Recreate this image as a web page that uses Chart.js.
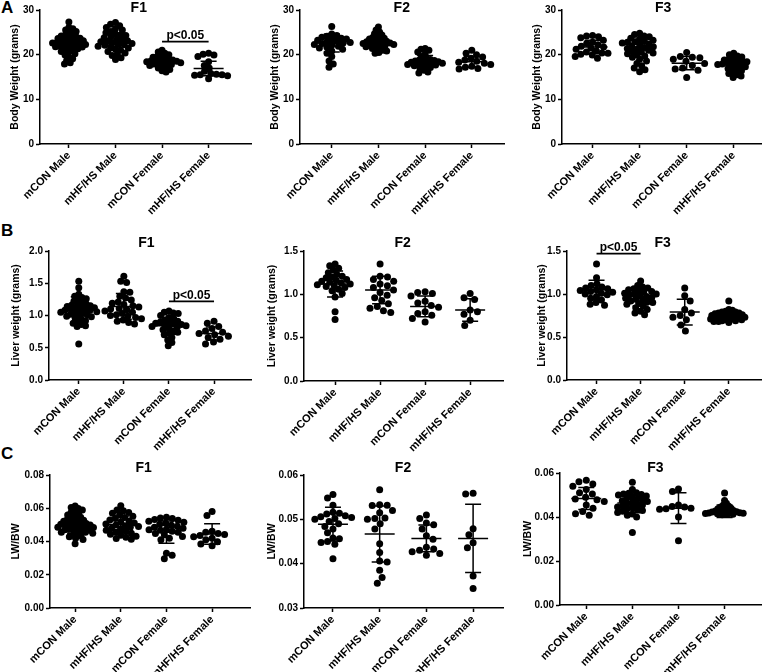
<!DOCTYPE html>
<html>
<head>
<meta charset="utf-8">
<script src="https://cdn.jsdelivr.net/npm/chart.js@4.4.0/dist/chart.umd.min.js"></script>
<style>
  html, body { margin: 0; padding: 0; background: #fff; }
  #figure { position: relative; width: 765px; height: 672px; overflow: hidden; background: #fff; }
  #figure canvas { position: absolute; }
  .panel-letter { position: absolute; font: bold 17px "Liberation Sans", Arial, sans-serif; color: #000; }
</style>
</head>
<body>
<div id="figure">
  <div class="panel-letter" style="left:1px;top:-2px">A</div>
  <div class="panel-letter" style="left:1px;top:221px">B</div>
  <div class="panel-letter" style="left:1px;top:444px">C</div>
</div>
<script>
const groups = ["mCON Male", "mHF/HS Male", "mCON Female", "mHF/HS Female"];

// Body weight (grams)
const bwF1 = [
  [27.3, 26.1, 25.8, 25.5, 25.2, 24.9, 24.6, 24.4, 24.2, 24.0, 23.8, 23.6, 23.5, 23.3, 23.1, 23.0, 22.9, 22.8, 22.6, 22.5, 22.4, 22.3, 22.1, 22.0, 21.9, 21.7, 21.5, 21.3, 21.1, 20.9, 20.7, 20.5, 20.2, 19.9, 19.5, 19.1, 18.7, 18.2, 17.9, 23.7, 22.7, 21.8],
  [27.2, 26.8, 26.5, 26.1, 25.8, 25.5, 25.2, 24.9, 24.6, 24.3, 24.0, 23.8, 23.5, 23.3, 23.1, 22.9, 22.7, 22.5, 22.3, 22.1, 21.9, 21.7, 21.5, 21.2, 21.0, 20.7, 20.4, 20.1, 19.8, 19.3, 18.9, 23.0, 22.2, 24.4],
  [21.0, 20.6, 20.3, 20.0, 19.8, 19.6, 19.4, 19.2, 19.0, 18.9, 18.8, 18.7, 18.6, 18.5, 18.4, 18.3, 18.2, 18.1, 18.0, 17.9, 17.8, 17.6, 17.4, 17.2, 17.0, 16.7, 16.4, 16.1],
  [20.3, 20.1, 19.9, 19.6, 18.4, 17.6, 17.0, 16.3, 15.8, 15.6, 15.5, 15.5, 15.4, 15.3, 14.6]
];
const bwF1Mean = [22.7, 22.9, 18.6, 16.9];
const bwF1Sd = [1.8, 1.9, 1.1, 1.6];
const bwF1Sig = [2, 3, 22.9];

const bwF2 = [
  [26.3, 24.6, 24.3, 24.1, 23.9, 23.7, 23.5, 23.4, 23.2, 23.0, 22.9, 22.7, 22.6, 22.5, 22.3, 22.1, 21.9, 21.7, 21.5, 21.2, 20.8, 20.3, 19.6, 18.6, 17.9, 17.2],
  [26.2, 25.5, 25.1, 24.7, 24.4, 24.1, 23.9, 23.7, 23.5, 23.3, 23.1, 23.0, 22.9, 22.8, 22.7, 22.6, 22.5, 22.4, 22.3, 22.2, 22.1, 22.0, 21.8, 21.6, 21.4, 21.2, 21.0, 20.8, 20.5, 20.3],
  [21.4, 21.2, 21.0, 20.6, 20.1, 19.6, 19.2, 18.9, 18.7, 18.6, 18.5, 18.4, 18.3, 18.2, 18.1, 18.0, 17.9, 17.8, 17.7, 17.6, 17.5, 17.3, 17.1, 16.8, 16.5, 16.1, 15.9, 18.8],
  [21.0, 20.3, 20.0, 19.5, 19.2, 18.8, 18.5, 18.3, 18.1, 17.8, 17.4, 17.2, 16.9, 16.8]
];
const bwF2Mean = [22.6, 22.7, 18.5, 18.4];
const bwF2Sd = [2.0, 1.3, 1.3, 1.2];

const bwF3 = [
  [24.3, 24.2, 24.0, 23.8, 23.2, 22.8, 22.5, 22.2, 21.9, 21.7, 21.5, 21.2, 20.9, 20.6, 20.4, 20.3, 20.1, 19.9, 19.6, 19.2],
  [24.8, 24.5, 24.2, 24.0, 23.7, 23.5, 23.2, 23.0, 22.8, 22.6, 22.4, 22.2, 22.0, 21.8, 21.6, 21.4, 21.2, 21.0, 20.8, 20.6, 20.4, 20.2, 20.0, 19.7, 19.4, 19.0, 18.6, 18.0, 17.5, 17.0, 16.6, 16.2, 22.9],
  [20.5, 19.6, 19.4, 19.3, 19.0, 18.5, 18.0, 17.6, 17.0, 16.8, 16.5, 14.9],
  [20.3, 20.0, 19.7, 19.5, 19.2, 19.0, 18.8, 18.6, 18.4, 18.2, 18.0, 17.9, 17.8, 17.6, 17.5, 17.3, 17.1, 16.9, 16.6, 16.4, 16.1, 15.8, 15.5, 15.2, 14.9, 18.5]
];
const bwF3Mean = [21.7, 21.4, 18.1, 17.8];
const bwF3Sd = [1.5, 2.0, 1.5, 1.4];

// Liver weight (grams)
const lwF1 = [
  [1.53, 1.43, 1.33, 1.30, 1.28, 1.26, 1.24, 1.22, 1.20, 1.18, 1.17, 1.15, 1.14, 1.13, 1.12, 1.11, 1.10, 1.09, 1.08, 1.07, 1.06, 1.05, 1.04, 1.03, 1.02, 1.01, 1.00, 0.98, 0.96, 0.94, 0.92, 0.90, 0.88, 0.86, 0.84, 0.83, 0.56, 1.16, 1.08, 0.99],
  [1.61, 1.53, 1.51, 1.37, 1.36, 1.30, 1.27, 1.24, 1.21, 1.19, 1.17, 1.15, 1.13, 1.11, 1.09, 1.07, 1.05, 1.03, 1.01, 1.00, 0.99, 0.97, 0.95, 0.93, 0.91, 0.89, 0.87, 1.10],
  [1.07, 1.05, 1.04, 1.03, 1.00, 0.97, 0.95, 0.93, 0.91, 0.90, 0.89, 0.88, 0.87, 0.86, 0.85, 0.84, 0.83, 0.82, 0.80, 0.78, 0.76, 0.74, 0.72, 0.70, 0.66, 0.62, 0.58, 0.53],
  [0.91, 0.88, 0.83, 0.80, 0.76, 0.74, 0.72, 0.70, 0.68, 0.66, 0.63, 0.59, 0.56]
];
const lwF1Mean = [1.09, 1.14, 0.84, 0.72];
const lwF1Sd = [0.20, 0.20, 0.13, 0.10];
const lwF1Sig = [2, 3, 1.22];

const lwF2 = [
  [1.35, 1.33, 1.30, 1.28, 1.25, 1.23, 1.21, 1.20, 1.19, 1.17, 1.16, 1.15, 1.14, 1.13, 1.12, 1.11, 1.10, 1.09, 1.08, 1.06, 1.04, 1.01, 0.97, 0.80, 0.71],
  [1.35, 1.21, 1.20, 1.17, 1.15, 1.12, 1.10, 1.08, 1.05, 1.02, 0.99, 0.96, 0.93, 0.89, 0.86, 0.84, 0.81, 0.79],
  [1.03, 1.02, 1.01, 0.98, 0.92, 0.90, 0.87, 0.85, 0.80, 0.78, 0.76, 0.72, 0.68],
  [1.01, 0.96, 0.94, 0.82, 0.80, 0.77, 0.70, 0.64]
];
const lwF2Mean = [1.12, 1.05, 0.86, 0.82];
const lwF2Sd = [0.15, 0.16, 0.12, 0.13];

const lwF3 = [
  [1.35, 1.19, 1.12, 1.10, 1.08, 1.07, 1.06, 1.05, 1.04, 1.03, 1.02, 1.01, 1.00, 0.99, 0.97, 0.95, 0.93, 0.90, 0.88, 0.87],
  [1.15, 1.10, 1.08, 1.07, 1.06, 1.05, 1.04, 1.03, 1.02, 1.01, 1.00, 0.99, 0.98, 0.97, 0.96, 0.95, 0.94, 0.93, 0.92, 0.91, 0.90, 0.89, 0.88, 0.86, 0.84, 0.82, 0.80, 0.78, 0.76, 1.00],
  [1.07, 0.98, 0.92, 0.82, 0.78, 0.75, 0.73, 0.70, 0.64, 0.57],
  [0.92, 0.82, 0.81, 0.80, 0.79, 0.79, 0.78, 0.78, 0.77, 0.77, 0.76, 0.76, 0.75, 0.75, 0.74, 0.74, 0.73, 0.73, 0.72, 0.72, 0.71, 0.71, 0.70, 0.70, 0.69, 0.69, 0.68, 0.68, 0.67, 0.73]
];
const lwF3Mean = [1.05, 0.97, 0.79, 0.74];
const lwF3Sd = [0.11, 0.11, 0.15, 0.05];
const lwF3Sig = [0, 1, 1.47];

// Liver weight / body weight
const ratioF1 = [
  [0.0614, 0.0605, 0.0598, 0.0590, 0.0582, 0.0575, 0.0568, 0.0560, 0.0553, 0.0546, 0.0540, 0.0534, 0.0528, 0.0522, 0.0517, 0.0512, 0.0508, 0.0504, 0.0500, 0.0496, 0.0492, 0.0488, 0.0484, 0.0480, 0.0476, 0.0472, 0.0468, 0.0464, 0.0460, 0.0455, 0.0450, 0.0445, 0.0440, 0.0434, 0.0428, 0.0420, 0.0412, 0.0386, 0.0510, 0.0498, 0.0486, 0.0470, 0.0530, 0.0455],
  [0.0615, 0.0590, 0.0585, 0.0575, 0.0570, 0.0560, 0.0552, 0.0545, 0.0538, 0.0530, 0.0524, 0.0518, 0.0512, 0.0506, 0.0500, 0.0495, 0.0490, 0.0485, 0.0480, 0.0474, 0.0468, 0.0462, 0.0456, 0.0450, 0.0444, 0.0438, 0.0432, 0.0425, 0.0418, 0.0414],
  [0.0546, 0.0542, 0.0538, 0.0532, 0.0528, 0.0522, 0.0516, 0.0510, 0.0504, 0.0498, 0.0492, 0.0486, 0.0480, 0.0474, 0.0468, 0.0462, 0.0455, 0.0448, 0.0440, 0.0430, 0.0420, 0.0410, 0.0330, 0.0318, 0.0296, 0.0470],
  [0.0580, 0.0556, 0.0462, 0.0455, 0.0448, 0.0442, 0.0436, 0.0428, 0.0420, 0.0410, 0.0398, 0.0385, 0.0374]
];
const ratioF1Mean = [0.0496, 0.0502, 0.0456, 0.0445];
const ratioF1Sd = [0.0050, 0.0050, 0.0067, 0.0062];

const ratioF2 = [
  [0.0556, 0.0548, 0.0532, 0.0516, 0.0514, 0.0512, 0.0508, 0.0506, 0.0504, 0.0502, 0.0500, 0.0495, 0.0490, 0.0484, 0.0478, 0.0470, 0.0458, 0.0456, 0.0450, 0.0448, 0.0444, 0.0411],
  [0.0567, 0.0533, 0.0532, 0.0531, 0.0520, 0.0503, 0.0502, 0.0500, 0.0490, 0.0478, 0.0445, 0.0425, 0.0406, 0.0404, 0.0385, 0.0369, 0.0356, 0.0515],
  [0.0510, 0.0502, 0.0492, 0.0488, 0.0478, 0.0463, 0.0455, 0.0437, 0.0433, 0.0430, 0.0427, 0.0423, 0.0419],
  [0.0559, 0.0557, 0.0479, 0.0465, 0.0447, 0.0436, 0.0372, 0.0344]
];
const ratioF2Mean = [0.0489, 0.0467, 0.0457, 0.0457];
const ratioF2Sd = [0.0038, 0.0063, 0.0030, 0.0077];

const ratioF3 = [
  [0.0567, 0.0560, 0.0550, 0.0540, 0.0525, 0.0510, 0.0505, 0.0490, 0.0482, 0.0478, 0.0470, 0.0455, 0.0440, 0.0425, 0.0415, 0.0408],
  [0.0558, 0.0525, 0.0510, 0.0508, 0.0505, 0.0502, 0.0500, 0.0495, 0.0490, 0.0486, 0.0482, 0.0478, 0.0474, 0.0470, 0.0466, 0.0462, 0.0458, 0.0454, 0.0450, 0.0446, 0.0442, 0.0438, 0.0434, 0.0430, 0.0426, 0.0420, 0.0414, 0.0408, 0.0400, 0.0330],
  [0.0527, 0.0516, 0.0455, 0.0448, 0.0445, 0.0440, 0.0438, 0.0435, 0.0400, 0.0292],
  [0.0509, 0.0475, 0.0462, 0.0455, 0.0450, 0.0446, 0.0443, 0.0440, 0.0437, 0.0434, 0.0431, 0.0429, 0.0427, 0.0425, 0.0423, 0.0421, 0.0419, 0.0417, 0.0415, 0.0413, 0.0411, 0.0410, 0.0420, 0.0418, 0.0416, 0.0424]
];
const ratioF3Mean = [0.0484, 0.0464, 0.0440, 0.0426];
const ratioF3Sd = [0.0050, 0.0045, 0.0070, 0.0028];

// ---- layout of the 3x3 figure ----
const FONT = '"Liberation Sans", Arial, sans-serif';
Chart.defaults.font.family = FONT;
Chart.defaults.color = "#000";

const colWidth = 255;
const rowTops = [0, 220, 440];
const rowHeights = [222, 234, 232];
const titleYs = [8, 23, 28];
const dotRadius = 3.5;
const maxSpread = 19; // px either side of the category

// area = [left, top, right, bottom] inside each canvas
const panels = [
  { row: 0, col: 0, values: bwF1, mean: bwF1Mean, sd: bwF1Sd, sig: bwF1Sig, title: "F1", yTitle: "Body Weight (grams)", yMin: 0, yMax: 30, yStep: 10, dec: 0, xMin: -0.62, xMax: 3.91, area: [40, 10, 252, 144], yTitleX: 15 },
  { row: 0, col: 1, values: bwF2, mean: bwF2Mean, sd: bwF2Sd, title: "F2", yTitle: "Body Weight (grams)", yMin: 0, yMax: 30, yStep: 10, dec: 0, xMin: -0.68, xMax: 3.69, area: [45, 10, 249, 144], yTitleX: 20 },
  { row: 0, col: 2, values: bwF3, mean: bwF3Mean, sd: bwF3Sd, title: "F3", yTitle: "Body Weight (grams)", yMin: 0, yMax: 30, yStep: 10, dec: 0, xMin: -0.65, xMax: 3.58, area: [52, 10, 255, 144], yTitleX: 27 },
  { row: 1, col: 0, values: lwF1, mean: lwF1Mean, sd: lwF1Sd, sig: lwF1Sig, title: "F1", yTitle: "Liver weight (grams)", yMin: 0, yMax: 2.0, yStep: 0.5, dec: 1, xMin: -0.66, xMax: 3.82, area: [49, 31, 252, 160], yTitleX: 16 },
  { row: 1, col: 1, values: lwF2, mean: lwF2Mean, sd: lwF2Sd, title: "F2", yTitle: "Liver weight (grams)", yMin: 0, yMax: 1.5, yStep: 0.5, dec: 1, xMin: -0.69, xMax: 3.73, area: [49, 31, 248, 161], yTitleX: 17 },
  { row: 1, col: 2, values: lwF3, mean: lwF3Mean, sd: lwF3Sd, sig: lwF3Sig, title: "F3", yTitle: "Liver weight (grams)", yMin: 0, yMax: 1.5, yStep: 0.5, dec: 1, xMin: -0.67, xMax: 3.73, area: [57, 31, 255, 160], yTitleX: 32 },
  { row: 2, col: 0, values: ratioF1, mean: ratioF1Mean, sd: ratioF1Sd, title: "F1", yTitle: "LW/BW", yMin: 0, yMax: 0.08, yStep: 0.02, dec: 2, xMin: -0.55, xMax: 3.83, area: [50, 35, 250, 168], yTitleX: 16 },
  { row: 2, col: 1, values: ratioF2, mean: ratioF2Mean, sd: ratioF2Sd, title: "F2", yTitle: "LW/BW", yMin: 0.03, yMax: 0.06, yStep: 0.01, dec: 2, xMin: -0.62, xMax: 3.64, area: [49, 35, 248, 168], yTitleX: 17 },
  { row: 2, col: 2, values: ratioF3, mean: ratioF3Mean, sd: ratioF3Sd, title: "F3", yTitle: "LW/BW", yMin: 0, yMax: 0.06, yStep: 0.02, dec: 2, xMin: -0.57, xMax: 3.79, area: [50, 33, 255, 165], yTitleX: 18 }
];

// beeswarm with spacing d: each dot goes to the nearest free spot beside the centre
function swarmWith(pys, d) {
  const order = pys.map((py, i) => i).sort((a, b) => pys[a] - pys[b]);
  const placed = [];
  const xs = new Array(pys.length).fill(0);
  order.forEach((i, k) => {
    const py = pys[i];
    const near = placed.filter((p) => Math.abs(p.y - py) < d);
    const cands = [0];
    near.forEach((p) => {
      const dx = Math.sqrt(d * d - (p.y - py) * (p.y - py));
      cands.push(p.x + dx + 0.01, p.x - dx - 0.01);
    });
    const ok = cands.filter((c) =>
      near.every((p) => (p.x - c) * (p.x - c) + (p.y - py) * (p.y - py) >= d * d - 0.1)
    );
    ok.sort((a, b) => Math.abs(a) - Math.abs(b) || (k % 2 ? a - b : b - a));
    xs[i] = ok[0];
    placed.push({ x: ok[0], y: py });
  });
  return xs;
}

// dense groups get squeezed (dots overlap) so the swarm stays within maxSpread
function swarmOffsets(pys, r) {
  let d = 2 * r + 0.5;
  let xs = swarmWith(pys, d);
  while (Math.max(...xs.map(Math.abs)) > maxSpread && d > r) {
    d *= 0.93;
    xs = swarmWith(pys, d);
  }
  return xs;
}

function makePanel(p) {
  const figure = document.getElementById("figure");
  const W = colWidth;
  const H = rowHeights[p.row];
  const canvas = document.createElement("canvas");
  canvas.width = W;
  canvas.height = H;
  canvas.style.left = p.col * colWidth + "px";
  canvas.style.top = rowTops[p.row] + "px";
  figure.appendChild(canvas);

  const [aLeft, aTop, aRight, aBottom] = p.area;

  // mean line with SD whiskers, title, significance bar
  const overlay = {
    id: "overlay",
    afterDatasetsDraw(chart) {
      const { ctx, scales: { x, y } } = chart;
      ctx.save();
      ctx.strokeStyle = "#000";
      ctx.lineWidth = 1.5;
      p.mean.forEach((m, g) => {
        const cx = x.getPixelForValue(g);
        const ym = y.getPixelForValue(m);
        const yt = y.getPixelForValue(m + p.sd[g]);
        const yb = y.getPixelForValue(m - p.sd[g]);
        ctx.beginPath();
        ctx.moveTo(cx - 15, ym); ctx.lineTo(cx + 15, ym);
        ctx.moveTo(cx, yt); ctx.lineTo(cx, yb);
        ctx.moveTo(cx - 8, yt); ctx.lineTo(cx + 8, yt);
        ctx.moveTo(cx - 8, yb); ctx.lineTo(cx + 8, yb);
        ctx.stroke();
      });

      ctx.fillStyle = "#000";
      ctx.textAlign = "center";
      ctx.textBaseline = "middle";
      ctx.font = "bold 14px " + FONT;
      ctx.fillText(p.title, x.getPixelForValue(1.5), titleYs[p.row]);

      if (p.sig) {
        const x1 = x.getPixelForValue(p.sig[0]);
        const x2 = x.getPixelForValue(p.sig[1]);
        const ys = y.getPixelForValue(p.sig[2]);
        ctx.lineWidth = 1.8;
        ctx.beginPath();
        ctx.moveTo(x1, ys); ctx.lineTo(x2, ys);
        ctx.stroke();
        ctx.font = "bold 12px " + FONT;
        ctx.textBaseline = "bottom";
        ctx.fillText("p<0.05", (x1 + x2) / 2, ys);
      }
      ctx.restore();
    }
  };

  const axisGrid = { drawOnChartArea: false, drawTicks: true, tickLength: 4, tickColor: "#000", tickWidth: 1.5 };
  const axisBorder = { color: "#000", width: 1.5 };

  const chart = new Chart(canvas, {
    type: "scatter",
    data: {
      datasets: p.values.map((vals, g) => ({
        label: groups[g],
        data: vals.map((v) => ({ x: g, y: v })),
        pointRadius: dotRadius,
        pointBackgroundColor: "#000",
        pointBorderWidth: 0,
        clip: false
      }))
    },
    options: {
      responsive: false,
      animation: false,
      events: [],
      layout: { padding: { left: 0, top: aTop, right: W - aRight, bottom: 0 } },
      plugins: { legend: { display: false }, tooltip: { enabled: false }, title: { display: false } },
      scales: {
        x: {
          type: "linear",
          min: p.xMin,
          max: p.xMax,
          afterBuildTicks: (s) => { s.ticks = [0, 1, 2, 3].map((v) => ({ value: v })); },
          afterFit: (s) => { s.height = H - aBottom; },
          grid: axisGrid,
          border: axisBorder,
          ticks: {
            autoSkip: false,
            minRotation: 45,
            maxRotation: 45,
            padding: 1,
            color: "#000",
            font: { size: 11, weight: "bold" },
            callback: (v) => groups[v]
          }
        },
        y: {
          min: p.yMin,
          max: p.yMax,
          afterFit: (s) => { s.width = aLeft; },
          grid: axisGrid,
          border: axisBorder,
          ticks: {
            stepSize: p.yStep,
            padding: 2,
            color: "#000",
            font: { size: 10, weight: "bold" },
            callback: (v) => Number(v).toFixed(p.dec)
          },
          title: {
            display: true,
            text: p.yTitle,
            color: "#000",
            font: { size: 10.5, weight: "bold" },
            padding: { top: p.yTitleX - 6.3, bottom: 0 }
          }
        }
      }
    },
    plugins: [overlay]
  });

  // spread the dots of each group sideways like a scatter dot plot
  const xs = chart.scales.x;
  const ys = chart.scales.y;
  const unit = xs.getPixelForValue(1) - xs.getPixelForValue(0);
  chart.data.datasets.forEach((ds, g) => {
    const pys = p.values[g].map((v) => ys.getPixelForValue(v));
    const offs = swarmOffsets(pys, dotRadius);
    ds.data = p.values[g].map((v, i) => ({ x: g + offs[i] / unit, y: v }));
  });
  chart.update("none");
}

panels.forEach(makePanel);
</script>
</body>
</html>
